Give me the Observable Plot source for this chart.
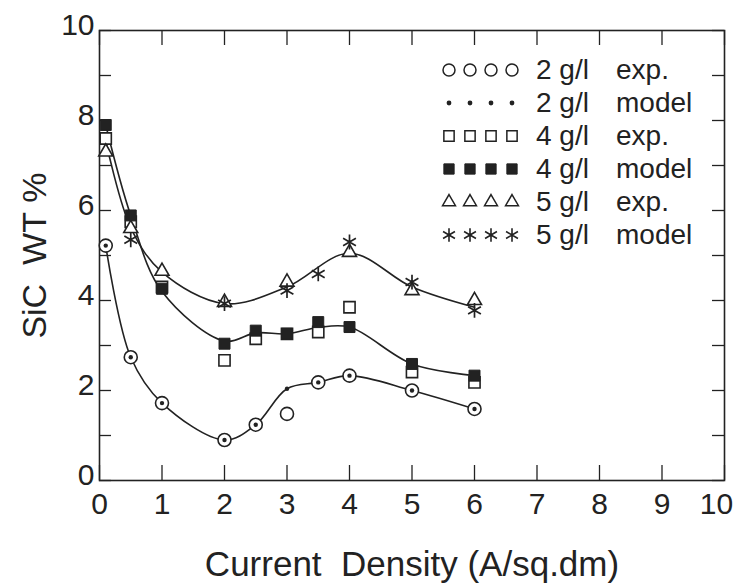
<!DOCTYPE html>
<html><head><meta charset="utf-8">
<script src="https://cdn.jsdelivr.net/npm/d3@7"></script>
<script src="https://cdn.jsdelivr.net/npm/@observablehq/plot@0.6"></script>
<style>
body{margin:0;background:#fff;}
#wrap{position:relative;width:735px;height:587px;font-family:"Liberation Sans",sans-serif;color:#222;}
#legend{position:absolute;left:438px;top:53px;}
.row{display:flex;align-items:center;height:33px;font-size:28px;line-height:33px;}
.row svg{flex:none;}
.conc{width:80px;margin-left:12px;}
</style></head><body><div id="wrap"></div>
<script>
// x positions (current density, A/sq.dm)
const xCur = [0.1, 0.5, 1, 2, 2.5, 3, 3.5, 4, 5, 6];
// 2 g/l
const g2Exp   = [5.22, 2.74, 1.72, 0.90, 1.24, 1.48, 2.18, 2.33, 2.00, 1.59];
const g2Model = [5.22, 2.74, 1.72, 0.90, 1.24, 2.04, 2.18, 2.33, 2.00, 1.59];
// 4 g/l
const g4Exp   = [7.60, 5.75, 4.30, 2.67, 3.15, 3.26, 3.30, 3.85, 2.41, 2.18];
const g4Model = [7.90, 5.89, 4.26, 3.04, 3.33, 3.26, 3.52, 3.41, 2.59, 2.33];
// 5 g/l
const x5Exp   = [0.1, 0.5, 1, 2, 3, 4, 5, 6];
const g5Exp   = [7.30, 5.60, 4.65, 3.96, 4.41, 5.07, 4.22, 4.00];
const x5Model = [0.5, 2, 3, 3.5, 4, 5, 6];
const g5Model = [5.35, 3.93, 4.22, 4.59, 5.30, 4.41, 3.78];
// drawn fit curves
const fit2X = [0.1, 0.5, 1, 2, 2.5, 3, 3.5, 4, 5, 6];
const fit2Y = [5.22, 2.74, 1.72, 0.90, 1.24, 2.04, 2.18, 2.33, 2.00, 1.59];
const fit4X = [0.1, 0.5, 1, 2, 2.5, 3, 3.5, 4, 5, 6];
const fit4Y = [7.90, 5.89, 4.20, 3.10, 3.28, 3.26, 3.40, 3.41, 2.59, 2.33];
const fit5X = [0.1, 0.5, 1, 2, 3, 4, 5, 6];
const fit5Y = [7.55, 5.62, 4.63, 3.93, 4.30, 5.05, 4.30, 3.85];
// axes
const xTickVals = [0, 1, 2, 3, 4, 5, 6, 7, 8, 9, 10];
const xLabelVals = [0, 1, 2, 3, 4, 5, 6, 7, 8, 9];
const xLabelLast = [10];
const yTickVals = [0, 1, 2, 3, 4, 5, 6, 7, 8, 9, 10];
const yLabelVals = [0, 2, 4, 6, 8, 10];
const xTitle = "Current\u00A0 Density (A/sq.dm)";
const yTitle = "SiC\u00A0 WT\u00A0%";
// legend
const legendConc = ["2 g/l", "2 g/l", "4 g/l", "4 g/l", "5 g/l", "5 g/l"];
const legendKind = ["exp.", "model", "exp.", "model", "exp.", "model"];

const ink = "#222";
const pts = (xs, ys) => xs.map((x, i) => ({x, y: ys[i]}));

const chart = Plot.plot({
  width: 735, height: 587,
  marginLeft: 99, marginRight: 11, marginTop: 30, marginBottom: 107,
  x: {domain: [0, 10]},
  y: {domain: [0, 10]},
  style: {fontFamily: "Liberation Sans, sans-serif", color: ink, background: "white"},
  marks: [
    Plot.frame({stroke: ink, strokeWidth: 1.6}),
    Plot.ruleX(xTickVals, {x: d => d, y1: 0, y2: 0, insetBottom: 15, stroke: ink, strokeWidth: 1.3}),
    Plot.ruleX(xTickVals, {x: d => d, y1: 10, y2: 10, insetTop: 15, stroke: ink, strokeWidth: 1.3}),
    Plot.ruleY(yTickVals, {y: d => d, x1: 0, x2: 0, insetRight: -12, stroke: ink, strokeWidth: 1.3}),
    Plot.ruleY(yTickVals, {y: d => d, x1: 10, x2: 10, insetLeft: -12, stroke: ink, strokeWidth: 1.3}),
    Plot.axisX({ticks: xLabelVals, tickSize: 0, tickPadding: 12, fontSize: 30, label: null, tickFormat: d => String(d)}),
    Plot.axisX({ticks: xLabelLast, tickSize: 0, tickPadding: 12, fontSize: 30, dx: -8, label: null, tickFormat: d => String(d)}),
    Plot.axisX({ticks: [], tickSize: 0, label: xTitle, labelAnchor: "center", labelOffset: 95, labelArrow: "none", fontSize: 35, dx: -6}),
    Plot.axisY({ticks: yLabelVals, tickSize: 0, tickPadding: 5, dy: -5, fontSize: 30, label: null, tickFormat: d => String(d)}),
    Plot.axisY({ticks: [], tickSize: 0, label: yTitle, labelAnchor: "center", labelOffset: 78, labelArrow: "none", fontSize: 34, dy: -5}),
    Plot.line(pts(fit2X, fit2Y), {x: "x", y: "y", curve: "catmull-rom", stroke: ink, strokeWidth: 1.6}),
    Plot.line(pts(fit4X, fit4Y), {x: "x", y: "y", curve: "catmull-rom", stroke: ink, strokeWidth: 1.6}),
    Plot.line(pts(fit5X, fit5Y), {x: "x", y: "y", curve: "catmull-rom", stroke: ink, strokeWidth: 1.6}),
    Plot.dot(pts(xCur, g2Exp), {x: "x", y: "y", symbol: "circle", r: 6.5, fill: "white", stroke: ink, strokeWidth: 1.6}),
    Plot.dot(pts(xCur, g4Exp), {x: "x", y: "y", symbol: "square", r: 6.3, fill: "white", stroke: ink, strokeWidth: 1.6}),
    Plot.dot(pts(x5Exp, g5Exp), {x: "x", y: "y", symbol: "triangle", r: 5.2, fill: "white", stroke: ink, strokeWidth: 1.6}),
    Plot.dot(pts(xCur, g2Model), {x: "x", y: "y", symbol: "circle", r: 2.2, fill: ink, stroke: "none"}),
    Plot.dot(pts(xCur, g4Model), {x: "x", y: "y", symbol: "square", r: 6.2, fill: ink, stroke: ink, strokeWidth: 1}),
    Plot.dot(pts(x5Model, g5Model), {x: "x", y: "y", symbol: "asterisk", r: 7, fill: "none", stroke: ink, strokeWidth: 1.7})
  ]
});
const wrap = document.getElementById("wrap");
wrap.appendChild(chart);

// legend overlay
const legendSym = [
  {type: d3.symbolCircle, r: 6, fill: "white", stroke: ink, sw: 1.5},
  {type: d3.symbolCircle, r: 2.4, fill: ink, stroke: "none", sw: 0},
  {type: d3.symbolSquare, r: 5.8, fill: "white", stroke: ink, sw: 1.5},
  {type: d3.symbolSquare, r: 5.8, fill: ink, stroke: ink, sw: 1},
  {type: d3.symbolTriangle, r: 4.8, fill: "white", stroke: ink, sw: 1.5},
  {type: d3.symbolAsterisk, r: 6.5, fill: "none", stroke: ink, sw: 1.6}
];
const legend = document.createElement("div");
legend.id = "legend";
legendConc.forEach((c, i) => {
  const row = document.createElement("div");
  row.className = "row";
  const s = legendSym[i];
  const svg = d3.create("svg").attr("width", 86).attr("height", 33);
  const path = d3.symbol(s.type, Math.PI * s.r * s.r)();
  for (let k = 0; k < 4; k++) {
    svg.append("path").attr("d", path)
      .attr("transform", `translate(${11 + k * 21},17)`)
      .attr("fill", s.fill).attr("stroke", s.stroke).attr("stroke-width", s.sw);
  }
  row.appendChild(svg.node());
  const t1 = document.createElement("span"); t1.className = "conc"; t1.textContent = c;
  const t2 = document.createElement("span"); t2.textContent = legendKind[i];
  row.appendChild(t1); row.appendChild(t2);
  legend.appendChild(row);
});
wrap.appendChild(legend);
</script>
</body></html>
